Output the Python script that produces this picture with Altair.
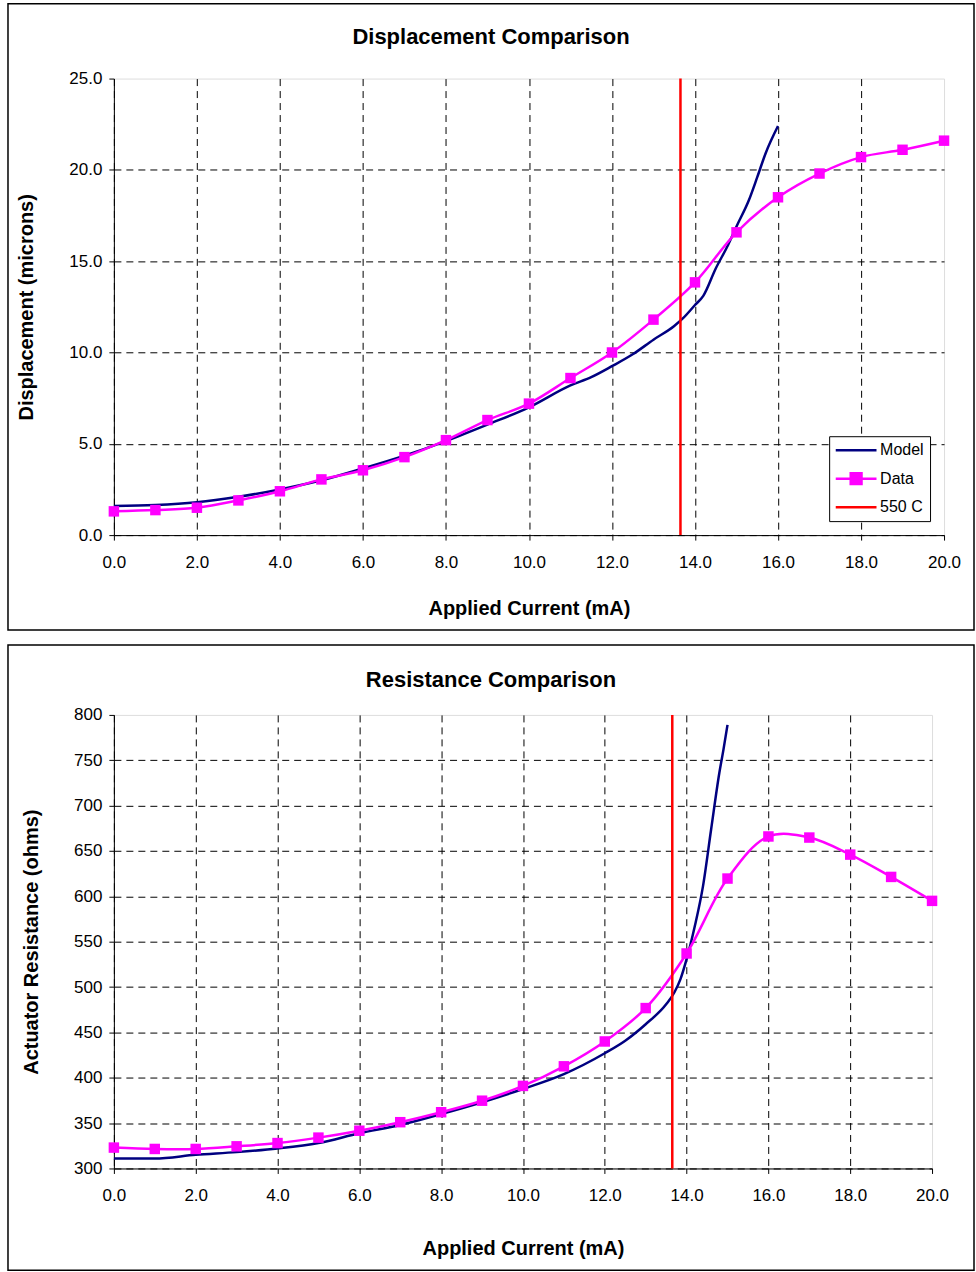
import altair as alt
import pandas as pd

FONT = "Liberation Sans"

# ---------------- data ----------------
current = list(range(0, 21))

disp_data = [1.3, 1.37, 1.5, 1.9, 2.4, 3.05, 3.55, 4.27, 5.2, 6.3, 7.2,
             8.6, 10.0, 11.8, 13.84, 16.58, 18.5, 19.8, 20.7, 21.1, 21.6]
disp_model_x = [0, 1, 2, 3, 4, 5, 6, 7, 8, 9, 10, 11, 11.5, 12, 12.5, 13, 13.5,
                13.7, 14, 14.2, 14.5, 14.8, 15, 15.3, 15.5, 15.7, 16]
disp_model_y = [1.6, 1.65, 1.8, 2.1, 2.5, 3.0, 3.65, 4.35, 5.15, 6.05, 7.0, 8.2,
                8.65, 9.25, 9.9, 10.7, 11.45, 11.85, 12.6, 13.1, 14.6, 15.9,
                16.9, 18.35, 19.6, 20.9, 22.4]

res_data = [323, 321.5, 321.5, 324.4, 328, 334, 341.6, 351, 362, 374.7, 391,
            412.6, 440, 476.8, 537, 619.6, 666, 664.8, 646, 621.4, 595]
res_model_x = [0, 1, 2, 3, 4, 5, 6, 7, 8, 9, 10, 11, 12, 12.5, 13, 13.5, 13.7,
               13.85, 14, 14.2, 14.4, 14.6, 14.8, 14.9, 15]
res_model_y = [311, 311, 315, 318, 322, 328, 338.8, 348, 360, 373, 387.6, 404,
               427, 440.8, 459, 481, 494, 508.7, 530.7, 567, 611, 674, 736,
               761.5, 789]

limit_current = [13.65]  # 550 C

series_names = ["Model", "Data", "550 C"]
series_colors = ["#000080", "#FF00FF", "#FF0000"]
x_ticks = [0, 2, 4, 6, 8, 10, 12, 14, 16, 18, 20]
disp_ticks = [0, 5, 10, 15, 20, 25]
res_ticks = [300, 350, 400, 450, 500, 550, 600, 650, 700, 750, 800]

LINE_PATH = "M-3.4,0L3.4,0"
DATA_PATH = "M-3.4,0L3.4,0M-0.9,-0.9L0.9,-0.9L0.9,0.9L-0.9,0.9Z"


def panel(title, title_y, mx, my, dy, ydom, yticks, yfmt, ytitle, width, height,
          rect_y, rect_y2, legend_x, legend_y, x_title_pad, y_title_pad):
    model_df = pd.DataFrame({"x": mx, "y": my})
    data_df = pd.DataFrame({"x": current, "y": dy})
    rule_df = pd.DataFrame({"x": limit_current})

    xmax = x_ticks[-1]
    ymax = yticks[-1]
    xenc = alt.X(
        "x:Q",
        scale=alt.Scale(domain=[0, xmax], nice=False, zero=False),
        axis=alt.Axis(
            values=x_ticks, format=".1f", title="Applied Current (mA)",
            labelFont=FONT, labelFontSize=17, labelColor="black",
            labelPadding=14, tickSize=5, tickColor="black",
            domainColor="black", domainWidth=1,
            titleFont=FONT, titleFontSize=20, titleFontWeight="bold",
            titleColor="black", titlePadding=x_title_pad,
            grid=True, gridColor="black", gridDash=[7, 5], gridWidth=1,
            gridOpacity={"condition": {"test": f"datum.value >= {xmax}", "value": 0},
                         "value": 1},
            labelFlush=False,
        ),
    )
    yenc = alt.Y(
        "y:Q",
        scale=alt.Scale(domain=ydom, nice=False, zero=False),
        axis=alt.Axis(
            values=yticks, format=yfmt, title=ytitle,
            labelFont=FONT, labelFontSize=17, labelColor="black",
            labelPadding=7, tickSize=5, tickColor="black",
            domainColor="black", domainWidth=1,
            titleFont=FONT, titleFontSize=20, titleFontWeight="bold",
            titleColor="black", titlePadding=y_title_pad,
            grid=True, gridColor="black", gridDash=[7, 5], gridWidth=1,
            gridOpacity={"condition": {"test": f"datum.value >= {ymax}", "value": 0},
                         "value": 1},
            labelFlush=False,
        ),
    )

    frame = alt.Chart(alt.InlineData(values=[{"k": 1}])).mark_rect(
        fill="white", fillOpacity=0, stroke="black", strokeWidth=1.5
    ).encode(
        x=alt.value(-106), x2=alt.value(861),
        y=alt.value(rect_y), y2=alt.value(rect_y2),
    )

    title_mark = alt.Chart(alt.InlineData(values=[{"t": title}])).mark_text(
        font=FONT, fontSize=22, fontWeight="bold", color="black",
        align="center", baseline="middle",
    ).encode(
        text="t:N", x=alt.value(377.5), y=alt.value(title_y)
    )

    model_line = alt.Chart(model_df).mark_line(
        color=series_colors[0], strokeWidth=2.5, interpolate="monotone"
    ).encode(x=xenc, y=yenc)

    data_line = alt.Chart(data_df).mark_line(
        color=series_colors[1], strokeWidth=2.5, interpolate="catmull-rom"
    ).encode(x=xenc, y=yenc)

    data_pts = alt.Chart(data_df).mark_square(
        color=series_colors[1], filled=True, size=110, opacity=1
    ).encode(x=xenc, y=yenc)

    rule = alt.Chart(rule_df).mark_rule(
        color=series_colors[2], strokeWidth=2.5
    ).encode(x=xenc)

    leg = alt.Legend(
        orient="none", legendX=legend_x, legendY=legend_y, title=None,
        strokeColor="black", fillColor="white", padding=6,
        symbolSize=144, symbolStrokeWidth=2.5, symbolOffset=13,
        labelOffset=16, labelFont=FONT, labelFontSize=16, labelColor="black",
        rowPadding=9.5, symbolOpacity=1,
    )
    sc = alt.Scale(domain=series_names, range=series_colors)
    shape_sc = alt.Scale(domain=series_names, range=[LINE_PATH, DATA_PATH, LINE_PATH])
    legend_layer = alt.Chart(alt.InlineData(values=[])).mark_point(
        filled=True, opacity=1
    ).encode(
        fill=alt.Fill("series:N", scale=sc, legend=leg),
        stroke=alt.Stroke("series:N", scale=sc, legend=leg),
        shape=alt.Shape("series:N", scale=shape_sc, legend=leg),
    )

    return alt.layer(
        frame, title_mark, model_line, data_line, data_pts, rule, legend_layer
    ).properties(width=width, height=height)


top = panel("Displacement Comparison", -42, disp_model_x, disp_model_y, disp_data,
            [0, 25], disp_ticks, ".1f", "Displacement (microns)", 831, 457,
            -75, 552, 716, 358, 28, 32)
bottom = panel("Resistance Comparison", -35, res_model_x, res_model_y, res_data,
               [300, 800], res_ticks, "d", "Actuator Resistance (ohms)", 819, 454,
               -70, 556, 702, 357, 35, 32)

chart = alt.vconcat(top, bottom, spacing=11).configure_view(
    stroke="#808080", strokeWidth=1
).configure(background="white").properties(
    padding={"left": 6, "top": 1, "right": 0, "bottom": 0}
)

chart.save("out.html", embed_options={"renderer": "svg", "actions": False})
